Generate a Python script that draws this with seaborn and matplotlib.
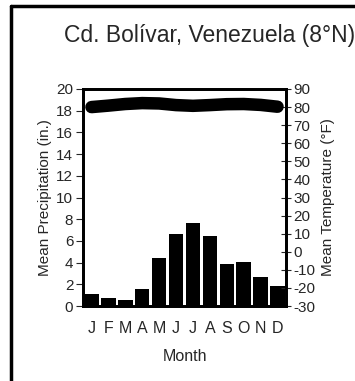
import numpy as np
import matplotlib
matplotlib.use('Agg')
import matplotlib.pyplot as plt
from matplotlib.lines import Line2D
import seaborn as sns

# climate data for Cd. Bolivar, Venezuela
months = ['J', 'F', 'M', 'A', 'M', 'J', 'J', 'A', 'S', 'O', 'N', 'D']
precip_in = [1.15, 0.72, 0.53, 1.55, 4.45, 6.6, 7.65, 6.45, 3.9, 4.05, 2.65, 1.85]
temp_f = [80.0, 80.8, 81.7, 82.2, 82.0, 81.1, 80.7, 81.1, 81.6, 81.7, 81.2, 80.2]

sns.set_style('white')
plt.rcParams['font.family'] = ['Liberation Sans', 'DejaVu Sans']
plt.rcParams['axes.unicode_minus'] = False

fig = plt.figure(figsize=(3.55, 3.81), dpi=100)
ax = fig.add_axes([83/355, 1-306/381, (286-83)/355, (306-89)/381])

x = np.arange(len(months))
sns.barplot(x=x, y=precip_in, color='black', width=0.86, edgecolor='black',
            linewidth=0, saturation=1, ax=ax)
ax.set_xlim(-0.5, 11.5)
ax.set_ylim(0, 20)
ax.set_yticks(np.arange(0, 21, 2))
ax.set_xticks(np.arange(-0.5, 12, 1))
ax.set_xticklabels([])
ax.set_xticks(x, minor=True)
ax.set_xticklabels(months, minor=True, fontsize=11.5)
ax.tick_params(axis='x', which='minor', length=0, pad=11)
ax.tick_params(axis='x', which='major', direction='inout', length=6, width=0.8)
ax.tick_params(axis='y', direction='out', length=5, width=0.8, labelsize=11, pad=2)
ax.set_xlabel('Month', fontsize=11.5, labelpad=9)
ax.set_ylabel('Mean Precipitation (in.)', fontsize=11, labelpad=3)
for s in ax.spines.values():
    s.set_linewidth(2)
    s.set_color('black')

ax2 = ax.twinx()
sns.lineplot(x=x, y=temp_f, color='black', linewidth=9, ax=ax2,
             solid_capstyle='round', solid_joinstyle='round')
ax2.set_ylim(-30, 90)
ax2.set_yticks(np.arange(-30, 91, 10))
ax2.tick_params(axis='y', direction='inout', length=7, width=0.8, labelsize=11, pad=2)
ax2.set_ylabel('Mean Temperature (°F)', fontsize=11, labelpad=4)
for s in ax2.spines.values():
    s.set_linewidth(2)
    s.set_color('black')

fig.text(64/355, 1-41.7/381, 'Cd. Bolívar, Venezuela (8°N)', fontsize=16.5,
         ha='left', va='baseline')

# outer frame (right and bottom edges fall outside the crop)
fig.add_artist(Line2D([11/355, 11/355], [0, 1-6/381], color='black', lw=2.5,
                      transform=fig.transFigure))
fig.add_artist(Line2D([11/355, 1], [1-6/381, 1-6/381], color='black', lw=2.5,
                      transform=fig.transFigure))

fig.savefig('out.png', dpi=100)
